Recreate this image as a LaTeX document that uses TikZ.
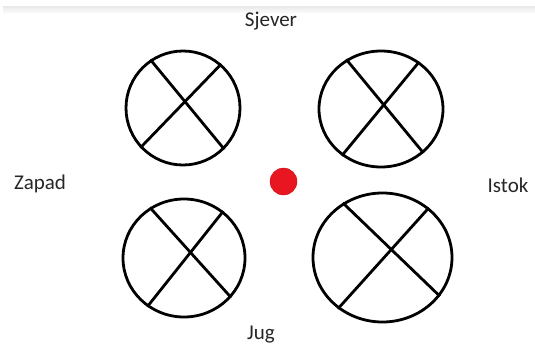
\documentclass[tikz,border=0pt]{standalone}
\usepackage{fontspec}
\setmainfont{Carlito}
\usetikzlibrary{shapes.geometric}

\begin{document}
\begin{tikzpicture}[
  x=1pt, y=-1pt,
  font=\fontsize{21}{25}\selectfont,
  wheel/.style={draw, ellipse, line width=2.8pt, inner sep=0pt},
  spoke/.style={line width=2.8pt},
  side/.style={text=black!85, inner sep=0pt},
  dot/.style={circle, fill={rgb,255:red,232;green,22;blue,32}, draw={rgb,255:red,205;green,20;blue,28}, inner sep=0pt, minimum size=27pt}
]
\useasboundingbox (0,0) rectangle (535,351);
\shade[top color=black!9, bottom color=white, draw=none] (3,6) rectangle (535,14);

% Sides
\node[side] (north) at (271,21)  {Sjever};
\node[side] (west)  at (40,184)  {Zapad};
\node[side] (east)  at (508,185) {Istok};
\node[side] (south) at (261,335) {Jug};

% Centre
\node[dot] (centre) at (283.5,181.5) {};

% Wheels
\node[wheel, minimum width=114pt, minimum height=114pt] (nw) at (183,108) {};
\node[wheel, minimum width=124pt, minimum height=116pt] (ne) at (381,109) {};
\node[wheel, minimum width=122pt, minimum height=118pt] (sw) at (184,258) {};
\node[wheel, minimum width=139pt, minimum height=129pt] (se) at (382.5,257.5) {};

% Crosses
\draw[spoke] (nw.124) -- (nw.-45);
\draw[spoke] (nw.49) -- (nw.223);
\draw[spoke] (ne.125) -- (ne.-46);
\draw[spoke] (ne.51) -- (ne.230);
\draw[spoke] (sw.124) -- (sw.-40);
\draw[spoke] (sw.50) -- (sw.233);
\draw[spoke] (se.126) -- (se.-34);
\draw[spoke] (se.47) -- (se.229);

\end{tikzpicture}
\end{document}
